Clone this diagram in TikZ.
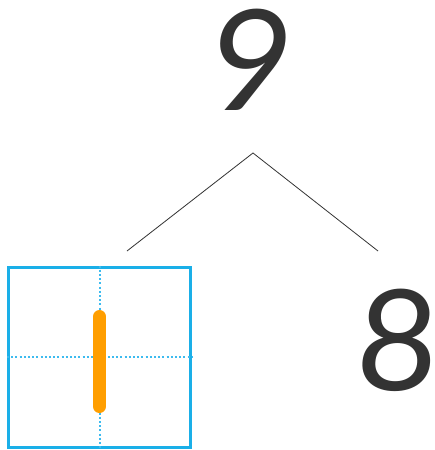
\documentclass[tikz,border=0pt]{standalone}
\usepackage{fontspec}
\newfontfamily\digitfont{Lato}
\definecolor{ink}{HTML}{333333}
\definecolor{gridblue}{HTML}{1AAFE8}
\definecolor{dotblue}{HTML}{3DBBEF}
\definecolor{barorange}{HTML}{FF9E00}
\begin{document}
\begin{tikzpicture}[x=1pt,y=-1pt,
  digit/.style={font=\digitfont\fontsize{140}{140}\selectfont, text=ink, inner sep=0pt, anchor=base},
  branch/.style={draw=ink, line width=0.8pt},
  gridbox/.style={draw=gridblue, line width=3pt},
  guide/.style={draw=dotblue, line width=2pt, dash pattern=on 2pt off 2.2pt},
  stroke1/.style={draw=barorange, line width=13pt, line cap=round}]
\useasboundingbox (0,0) rectangle (434,450);
\begin{scope}[shift={(247,110)}, xslant=0.1, transform shape]
\node[digit] (nine) at (0,0) {9};
\end{scope}
\coordinate (top) at (253,153);
\coordinate (left) at (127,251);
\coordinate (right) at (378,251);
\draw[branch] (left) -- (top) -- (right);
\node[gridbox, minimum width=182pt, minimum height=180pt, inner sep=0pt] (box) at (99.5,357) {};
\draw[guide] (box.north) -- (box.south);
\draw[guide] (box.west) -- (box.east);
\coordinate (bartop) at (99.5,316.5);
\coordinate (barbot) at (99.5,406.5);
\draw[stroke1] (bartop) -- (barbot);
\begin{scope}[shift={(395,390)}, xslant=0.06, transform shape]
\node[digit] (eight) at (0,0) {8};
\end{scope}
\end{tikzpicture}
\end{document}
